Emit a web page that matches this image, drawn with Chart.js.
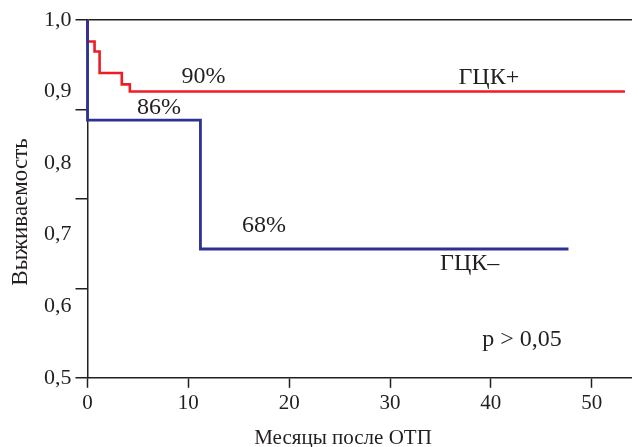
<!DOCTYPE html>
<html>
<head>
<meta charset="utf-8">
<script src="https://cdn.jsdelivr.net/npm/chart.js@4"></script>
<style>
  body { margin: 0; background: #fff; }
  #wrap { width: 632px; height: 447px; }
</style>
</head>
<body>
<div id="wrap"><canvas id="myChart"></canvas></div>
<script>
// survival curves, months after transplant
let plusMonths = [0, 0, 0.7, 1.2, 3.4, 4.2, 53.3]
let plusSurv = [1, 0.97, 0.956, 0.926, 0.91, 0.9, 0.9]
let minusMonths = [0, 0, 11.2, 47.7]
let minusSurv = [1, 0.86, 0.68, 0.68]

let xTicks = [0, 10, 20, 30, 40, 50]
let yLabels = [0.5, 0.6, 0.7, 0.8, 0.9, 1.0]
let yMarks = [0.5, 0.625, 0.75, 0.875, 1.0]

// text notes: [text, month, survival]
let notes = [
    ['90%', 11.5, 0.921],
    ['86%', 7.1, 0.877],
    ['68%', 17.5, 0.712],
    ['ГЦК+', 39.8, 0.919],
    ['ГЦК–', 37.9, 0.660],
    ['p > 0,05', 43.1, 0.553]
]

const ink = '#231f20'
const serif = '"Liberation Serif", "DejaVu Serif", serif'

function toPoints(xs, ys) {
    return xs.map((x, i) => ({ x: x, y: ys[i] }))
}
function has(list, v) {
    return list.some(a => Math.abs(a - v) < 1e-6)
}

const textPlugin = {
    id: 'notes',
    afterDatasetsDraw(chart) {
        const c = chart.ctx
        const xs = chart.scales.x, ys = chart.scales.y
        c.save()
        c.fillStyle = ink
        c.textAlign = 'center'
        c.textBaseline = 'middle'
        c.font = '24px ' + serif
        notes.forEach(n => {
            c.fillText(n[0], xs.getPixelForValue(n[1]), ys.getPixelForValue(n[2]))
        })
        // axis titles
        c.font = '21px ' + serif
        c.fillText('Месяцы после ОТП', 343, 438)
        c.font = '23px ' + serif
        c.translate(21, 212)
        c.rotate(-Math.PI / 2)
        c.fillText('Выживаемость', 0, 0)
        c.restore()
    }
}

var ctx = document.getElementById('myChart').getContext('2d');
var chart = new Chart(ctx, {
    type: 'line',
    data: {
        datasets: [{
            label: 'ГЦК–',
            data: toPoints(minusMonths, minusSurv),
            borderColor: '#2e3192',
            borderWidth: 2.8,
            stepped: 'before',
            pointRadius: 0,
            clip: false,
            fill: false
        }, {
            label: 'ГЦК+',
            data: toPoints(plusMonths, plusSurv),
            borderColor: '#ee1c25',
            borderWidth: 2.6,
            stepped: 'before',
            pointRadius: 0,
            clip: false,
            fill: false
        }]
    },
    options: {
        maintainAspectRatio: false,
        animation: false,
        layout: { padding: { left: 40, top: 20, right: 0, bottom: 28 } },
        plugins: { legend: { display: false }, tooltip: { enabled: false } },
        scales: {
            x: {
                type: 'linear',
                min: 0,
                max: 54,
                afterBuildTicks: axis => { axis.ticks = xTicks.map(v => ({ value: v })) },
                border: { color: ink, width: 1.5 },
                grid: { drawOnChartArea: false, tickLength: 10, tickColor: ink, tickWidth: 1.5 },
                ticks: { color: ink, padding: 3, font: { family: serif, size: 21 }, maxRotation: 0 }
            },
            y: {
                min: 0.5,
                max: 1.0,
                afterBuildTicks: axis => {
                    let all = yLabels.concat(yMarks.filter(v => !has(yLabels, v)))
                    axis.ticks = all.sort((a, b) => a - b).map(v => ({ value: v }))
                },
                border: { color: ink, width: 1.5 },
                grid: {
                    lineWidth: 1.5,
                    color: c => (c.tick && c.tick.value === 1) ? ink : 'transparent',
                    tickColor: c => (c.tick && has(yMarks, c.tick.value)) ? ink : 'transparent',
                    tickLength: 12,
                    tickWidth: 1.5
                },
                ticks: {
                    color: ink,
                    padding: 4,
                    autoSkip: false,
                    font: { family: serif, size: 22 },
                    callback: v => has(yLabels, v) ? v.toFixed(1).replace('.', ',') : ''
                }
            }
        }
    },
    plugins: [textPlugin]
});
</script>
</body>
</html>
